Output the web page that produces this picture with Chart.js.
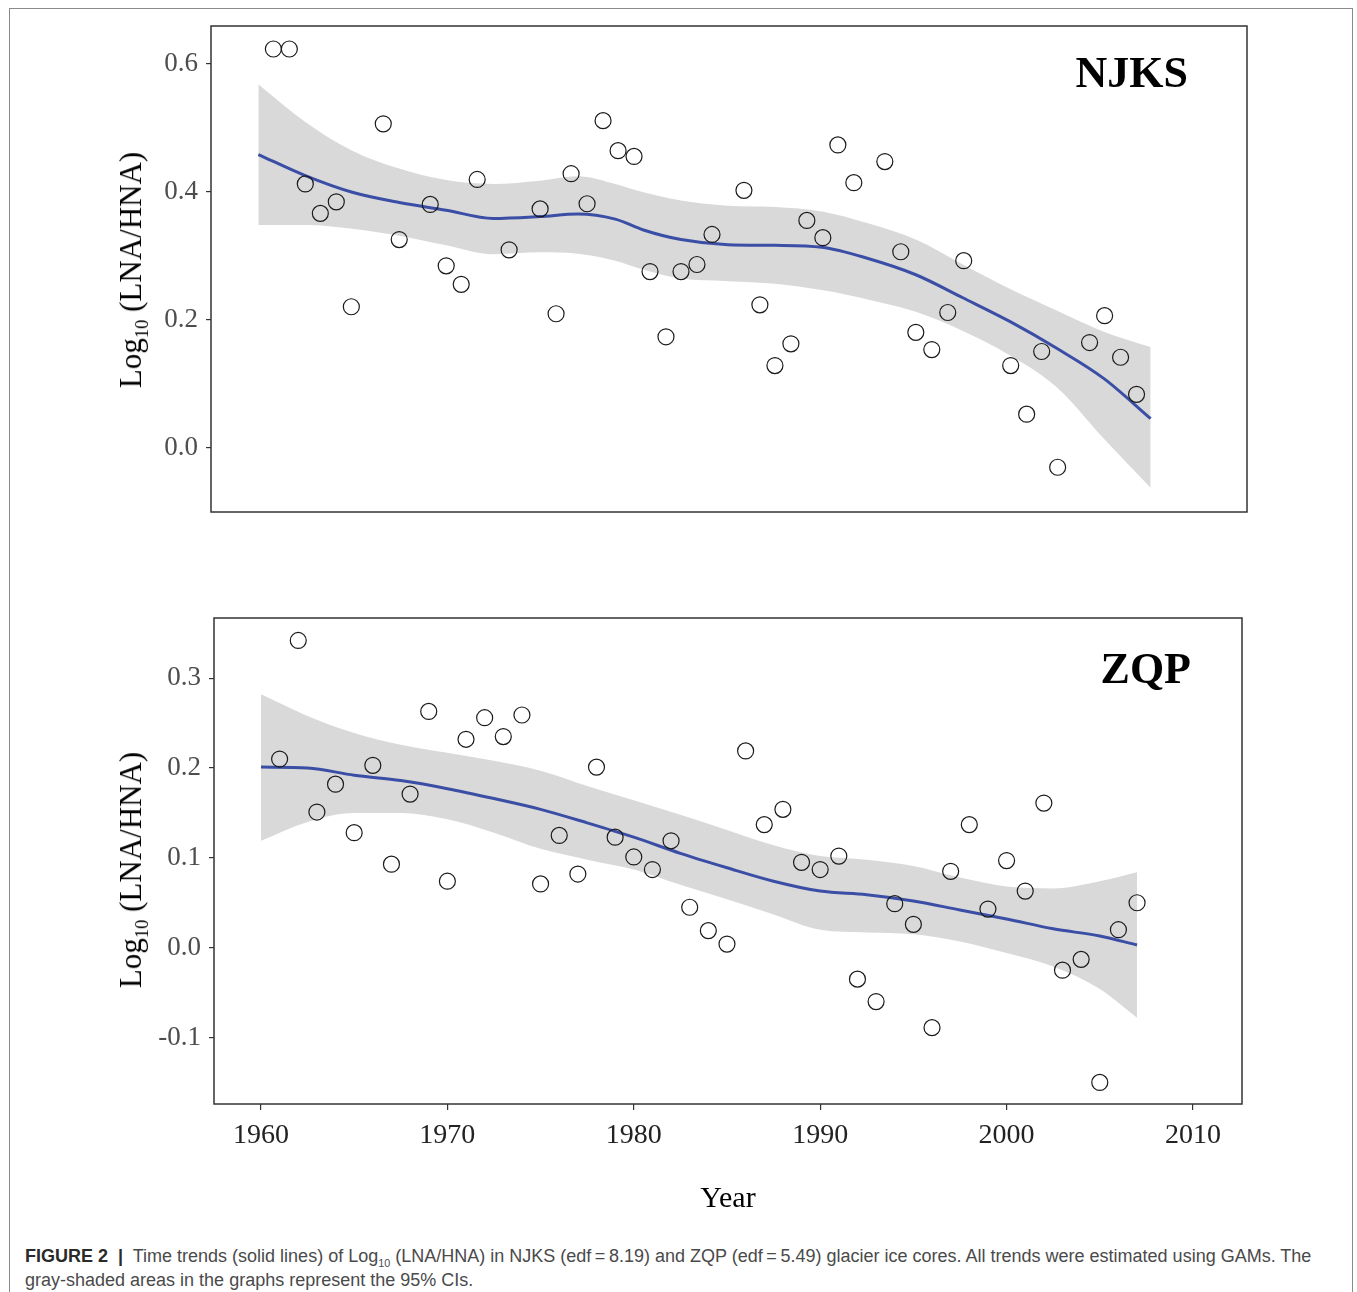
<!DOCTYPE html>
<html>
<head>
<meta charset="utf-8">
<title>Figure 2 - Log10 (LNA/HNA) time trends</title>
<script src="https://cdn.jsdelivr.net/npm/chart.js@4.4.1/dist/chart.umd.min.js"></script>
<style>
    html, body { margin: 0; padding: 0; background: #fff; }
    #page { position: relative; width: 1357px; height: 1292px; overflow: hidden; }
    .frame { position: absolute; left: 9px; top: 8px; width: 1342px; height: 1320px; border: 1px solid #8a8a8a; border-bottom: none; }
    canvas { position: absolute; }
    .ytitle {
        position: absolute; white-space: nowrap;
        font-family: 'Liberation Serif', 'Times New Roman', serif; font-size: 31px; color: #000;
        transform: translate(-50%, -50%) rotate(-90deg);
    }
    .ytitle sub { font-size: 60%; line-height: 0; }
    .caption {
        position: absolute; left: 25px; top: 1244px;
        font-family: 'Liberation Sans', Arial, sans-serif; font-size: 18px; line-height: 24px; color: #4a4a4a;
        white-space: nowrap;
    }
    .caption b { color: #2a2a2a; }
    .caption sub { font-size: 60%; line-height: 0; }
</style>
</head>
<body>
<div id="page">
    <div class="frame"></div>
    <canvas id="njksChart" width="1170" height="540" style="left:100px; top:0px;"></canvas>
    <canvas id="zqpChart" width="1170" height="640" style="left:100px; top:590px;"></canvas>
    <div class="ytitle" style="left:131px; top:270px;">Log<sub>10</sub> (LNA/HNA)</div>
    <div class="ytitle" style="left:131px; top:870px;">Log<sub>10</sub> (LNA/HNA)</div>
    <div class="caption">
        <b>FIGURE 2&nbsp; |</b>&nbsp; Time trends (solid lines) of Log<sub>10</sub> (LNA/HNA) in NJKS (edf&#8201;=&#8201;8.19) and ZQP (edf&#8201;=&#8201;5.49) glacier ice cores. All trends were estimated using GAMs. The<br>
        gray-shaded areas in the graphs represent the 95% CIs.
    </div>
</div>

<script>
// NJKS ice core samples (year, log10 LNA/HNA)
const njksYears = [1960.8, 1961.65, 1962.5, 1963.3, 1964.15, 1964.95, 1966.65, 1967.5, 1969.15, 1970.0,
    1970.8, 1971.65, 1973.35, 1975.0, 1975.85, 1976.65, 1977.5, 1978.35, 1979.15, 1980.0,
    1980.85, 1981.7, 1982.5, 1983.35, 1984.15, 1985.85, 1986.7, 1987.5, 1988.35, 1989.2,
    1990.05, 1990.85, 1991.7, 1993.35, 1994.2, 1995.0, 1995.85, 1996.7, 1997.55, 2000.05,
    2000.9, 2001.7, 2002.55, 2004.25, 2005.05, 2005.9, 2006.75];
const njksValues = [0.623, 0.623, 0.412, 0.366, 0.384, 0.220, 0.506, 0.325, 0.380, 0.284,
    0.255, 0.419, 0.309, 0.373, 0.209, 0.428, 0.381, 0.511, 0.464, 0.455,
    0.275, 0.173, 0.275, 0.286, 0.333, 0.402, 0.223, 0.128, 0.162, 0.355,
    0.328, 0.473, 0.414, 0.447, 0.306, 0.180, 0.153, 0.211, 0.292, 0.128,
    0.052, 0.150, -0.031, 0.164, 0.206, 0.141, 0.083];

// NJKS GAM fit and 95% CI, read at these years
const njksFitYears = [1960, 1962.5, 1965, 1967.5, 1970, 1972.5, 1975, 1977, 1979, 1980.5, 1982.5,
    1985, 1987.5, 1990, 1992.5, 1995, 1997.5, 2000, 2002.5, 2005, 2007.5];
const njksFit = [0.458, 0.425, 0.399, 0.383, 0.371, 0.358, 0.361, 0.365, 0.357, 0.340, 0.325,
    0.317, 0.316, 0.313, 0.295, 0.270, 0.234, 0.197, 0.155, 0.108, 0.045];
const njksUpper = [0.568, 0.509, 0.464, 0.436, 0.418, 0.412, 0.417, 0.424, 0.412, 0.399, 0.386,
    0.378, 0.376, 0.369, 0.350, 0.325, 0.286, 0.248, 0.214, 0.181, 0.157];
const njksLower = [0.348, 0.348, 0.342, 0.331, 0.316, 0.302, 0.305, 0.303, 0.292, 0.278, 0.264,
    0.260, 0.256, 0.246, 0.231, 0.212, 0.182, 0.144, 0.094, 0.014, -0.063];

// ZQP ice core samples, one per year 1961-2007
const zqpYears = [1961, 1962, 1963, 1964, 1965, 1966, 1967, 1968, 1969, 1970,
    1971, 1972, 1973, 1974, 1975, 1976, 1977, 1978, 1979, 1980,
    1981, 1982, 1983, 1984, 1985, 1986, 1987, 1988, 1989, 1990,
    1991, 1992, 1993, 1994, 1995, 1996, 1997, 1998, 1999, 2000,
    2001, 2002, 2003, 2004, 2005, 2006, 2007];
const zqpValues = [0.210, 0.342, 0.151, 0.182, 0.128, 0.203, 0.093, 0.171, 0.263, 0.074,
    0.232, 0.256, 0.235, 0.259, 0.071, 0.125, 0.082, 0.201, 0.123, 0.101,
    0.087, 0.119, 0.045, 0.019, 0.004, 0.219, 0.137, 0.154, 0.095, 0.087,
    0.102, -0.035, -0.060, 0.049, 0.026, -0.089, 0.085, 0.137, 0.043, 0.097,
    0.063, 0.161, -0.025, -0.013, -0.150, 0.020, 0.050];

const zqpFitYears = [1960, 1962.5, 1965, 1967.5, 1970, 1972.5, 1975, 1977.5, 1980, 1982.5,
    1985, 1987.5, 1990, 1992.5, 1995, 1997.5, 2000, 2002.5, 2005, 2007];
const zqpFit = [0.201, 0.200, 0.192, 0.186, 0.177, 0.166, 0.154, 0.139, 0.123, 0.105,
    0.089, 0.074, 0.063, 0.059, 0.052, 0.042, 0.032, 0.021, 0.013, 0.003];
const zqpUpper = [0.282, 0.258, 0.239, 0.226, 0.217, 0.208, 0.197, 0.180, 0.164, 0.148,
    0.131, 0.114, 0.102, 0.098, 0.091, 0.078, 0.068, 0.066, 0.074, 0.084];
const zqpLower = [0.119, 0.140, 0.150, 0.150, 0.143, 0.128, 0.110, 0.098, 0.087, 0.070,
    0.054, 0.037, 0.020, 0.017, 0.015, 0.007, -0.006, -0.021, -0.046, -0.078];

// Axis ticks
const xTicks = [1960, 1970, 1980, 1990, 2000, 2010];
const njksYTicks = [0.0, 0.2, 0.4, 0.6];
const zqpYTicks = [-0.1, 0.0, 0.1, 0.2, 0.3];

const serif = "'Liberation Serif', 'Times New Roman', serif";

const pts = (xs, ys) => xs.map((x, i) => ({ x: x, y: ys[i] }));

// Panel box + panel name (NJKS / ZQP)
const framePlugin = {
    id: 'frame',
    afterDraw(chart, args, opts) {
        const { ctx, chartArea: a } = chart;
        ctx.save();
        ctx.strokeStyle = '#333';
        ctx.lineWidth = 1.5;
        ctx.strokeRect(a.left, a.top, a.right - a.left, a.bottom - a.top);
        ctx.font = 'bold 44px ' + serif;
        ctx.fillStyle = '#000';
        ctx.textAlign = 'right';
        ctx.textBaseline = 'middle';
        ctx.fillText(opts.label, a.right - opts.dx, a.top + opts.dy);
        ctx.restore();
    }
};

function makePanel(id, cfg) {
    const ctx = document.getElementById(id).getContext('2d');
    return new Chart(ctx, {
        type: 'scatter',
        data: {
            datasets: [{
                type: 'scatter',
                data: pts(cfg.years, cfg.values),
                pointRadius: 8,
                pointBorderWidth: 1.2,
                borderColor: '#1a1a1a',
                backgroundColor: 'rgba(0,0,0,0)',
                order: 0
            }, {
                type: 'line',
                data: pts(cfg.fitYears, cfg.fit),
                borderColor: '#3B4EA6',
                borderWidth: 3,
                pointRadius: 0,
                cubicInterpolationMode: 'monotone',
                fill: false,
                order: 1
            }, {
                type: 'line',
                data: pts(cfg.fitYears, cfg.lower),
                borderColor: 'rgba(0,0,0,0)',
                borderWidth: 0,
                pointRadius: 0,
                cubicInterpolationMode: 'monotone',
                fill: false,
                order: 3
            }, {
                type: 'line',
                data: pts(cfg.fitYears, cfg.upper),
                borderColor: 'rgba(0,0,0,0)',
                borderWidth: 0,
                backgroundColor: '#D9D9D9',
                pointRadius: 0,
                cubicInterpolationMode: 'monotone',
                fill: '-1',
                order: 2
            }]
        },
        options: {
            responsive: false,
            animation: false,
            layout: { padding: cfg.padding },
            plugins: {
                legend: { display: false },
                tooltip: { enabled: false },
                frame: cfg.frame
            },
            scales: {
                x: {
                    type: 'linear',
                    min: 1957.48,
                    max: 2012.63,
                    display: cfg.showX,
                    afterBuildTicks: s => { s.ticks = xTicks.map(v => ({ value: v })); },
                    afterFit: s => { if (cfg.showX) s.height = cfg.xHeight; },
                    border: { display: false },
                    grid: { drawOnChartArea: false, drawTicks: true, tickLength: 6, color: '#333', lineWidth: 1.2 },
                    ticks: { callback: v => String(v), font: { family: serif, size: 28 }, color: '#222', padding: 9, maxRotation: 0 },
                    title: { display: cfg.showX, text: 'Year', font: { family: serif, size: 30 }, color: '#000', padding: { top: 0, bottom: 13 } }
                },
                y: {
                    min: cfg.yMin,
                    max: cfg.yMax,
                    afterBuildTicks: s => { s.ticks = cfg.yTicks.map(v => ({ value: v })); },
                    afterFit: s => { s.width = cfg.yWidth; },
                    border: { display: false },
                    grid: { drawOnChartArea: false, drawTicks: true, tickLength: 5, color: '#333', lineWidth: 1.2 },
                    ticks: { callback: v => v.toFixed(1), font: { family: serif, size: 27 }, color: '#4d4d4d', padding: 8 }
                }
            }
        },
        plugins: [framePlugin]
    });
}

makePanel('njksChart', {
    years: njksYears, values: njksValues,
    fitYears: njksFitYears, fit: njksFit, upper: njksUpper, lower: njksLower,
    yMin: -0.101, yMax: 0.659, yTicks: njksYTicks, yWidth: 111,
    showX: false, xHeight: 0,
    padding: { left: 0, right: 23, top: 26, bottom: 28 },
    frame: { label: 'NJKS', dx: 59, dy: 50 }
});

makePanel('zqpChart', {
    years: zqpYears, values: zqpValues,
    fitYears: zqpFitYears, fit: zqpFit, upper: zqpUpper, lower: zqpLower,
    yMin: -0.174, yMax: 0.367, yTicks: zqpYTicks, yWidth: 114,
    showX: true, xHeight: 126,
    padding: { left: 0, right: 28, top: 28, bottom: 0 },
    frame: { label: 'ZQP', dx: 51, dy: 54 }
});
</script>
</body>
</html>
